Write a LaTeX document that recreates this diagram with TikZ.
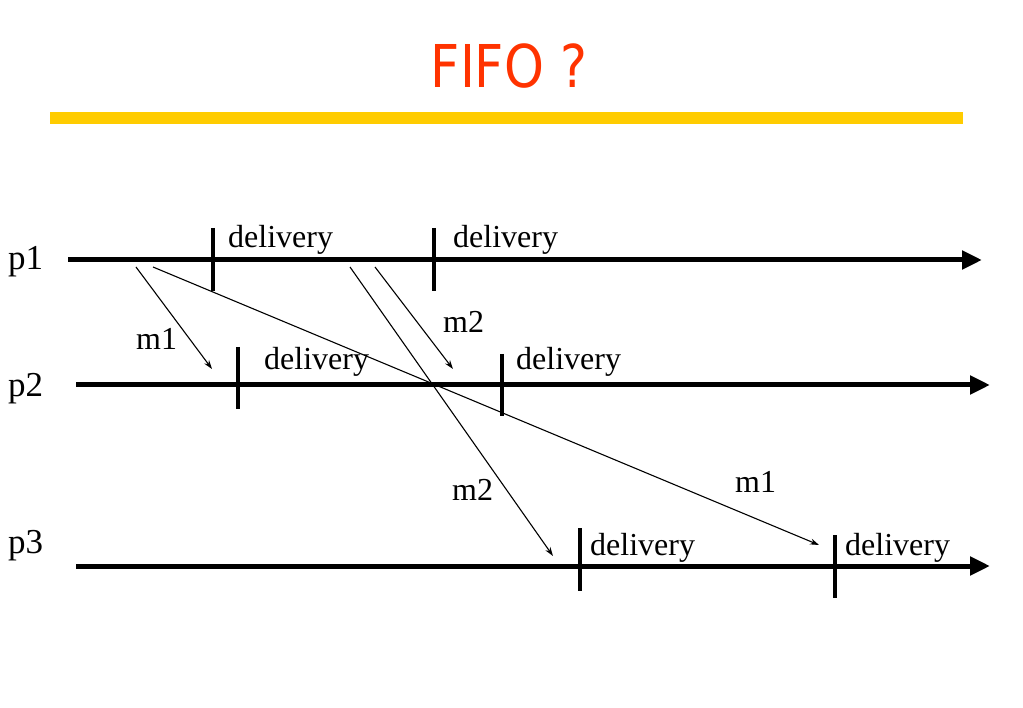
\documentclass[tikz,border=0pt]{standalone}
\usepackage{fontspec}
\setmainfont{Liberation Serif}
\newfontfamily\titlefont{DejaVu Sans}
\usetikzlibrary{arrows.meta}
\definecolor{titlered}{HTML}{FF3300}
\definecolor{baryellow}{HTML}{FFCC00}
\tikzset{
  timeline/.style={line width=5pt,-{Triangle[length=20pt,width=18pt]}},
  tick/.style={line width=4pt},
  msg/.style={line width=1.1pt,-{Stealth[length=9pt,width=6pt]}},
  lbl/.style={font=\fontsize{32}{36}\selectfont,inner sep=0pt,anchor=base west},
  plbl/.style={font=\fontsize{35}{40}\selectfont,inner sep=0pt,anchor=base west},
}
\begin{document}
\begin{tikzpicture}[x=1pt,y=-1pt]
\useasboundingbox (0,0) rectangle (1023,708);
% title
\node[inner sep=0pt,text=titlered,anchor=base] (title) at (509,88)
  {\scalebox{0.86}[1]{\titlefont\fontsize{59}{64}\selectfont FIFO ?}};
\fill[baryellow] (50,112) rectangle (963,124);
% process labels
\node[plbl] (p1) at (8,270) {p1};
\node[plbl] (p2) at (8,397) {p2};
\node[plbl] (p3) at (8,553) {p3};
% timelines
\coordinate (a1) at (68,260);  \coordinate (b1) at (982,260);
\coordinate (a2) at (76,385);  \coordinate (b2) at (990,385);
\coordinate (a3) at (76,566);  \coordinate (b3) at (990,566);
\draw[timeline] (a1) -- (b1);
\draw[timeline] (a2) -- (b2);
\draw[timeline] (a3) -- (b3);
% ticks
\coordinate (t1a) at (213,228); \coordinate (t1b) at (213,291);
\coordinate (t2a) at (434,228); \coordinate (t2b) at (434,291);
\coordinate (t3a) at (238,347); \coordinate (t3b) at (238,409);
\coordinate (t4a) at (502,354); \coordinate (t4b) at (502,416);
\coordinate (t5a) at (580,528); \coordinate (t5b) at (580,591);
\coordinate (t6a) at (835,535); \coordinate (t6b) at (835,598);
\foreach \t in {1,...,6} {\draw[tick] (t\t a) -- (t\t b);}
% delivery labels
\node[lbl] (d1) at (228,248) {delivery};
\node[lbl] (d2) at (453,248) {delivery};
\node[lbl] (d3) at (264,370) {delivery};
\node[lbl] (d4) at (516,370) {delivery};
\node[lbl] (d5) at (590,555) {delivery};
\node[lbl] (d6) at (845,555) {delivery};
% messages
\coordinate (s1) at (136,267); \coordinate (e1) at (212,369);
\coordinate (s2) at (153,267); \coordinate (e2) at (819,545);
\coordinate (s3) at (375,267); \coordinate (e3) at (453,369);
\coordinate (s4) at (350,267); \coordinate (e4) at (553,556);
\draw[msg] (s1) -- (e1);
\draw[msg] (s2) -- (e2);
\draw[msg] (s3) -- (e3);
\draw[msg] (s4) -- (e4);
% message labels
\node[lbl] (m1a) at (136,350) {m1};
\node[lbl] (m2a) at (443,333) {m2};
\node[lbl] (m2b) at (452,500) {m2};
\node[lbl] (m1b) at (735,492) {m1};
\end{tikzpicture}
\end{document}
